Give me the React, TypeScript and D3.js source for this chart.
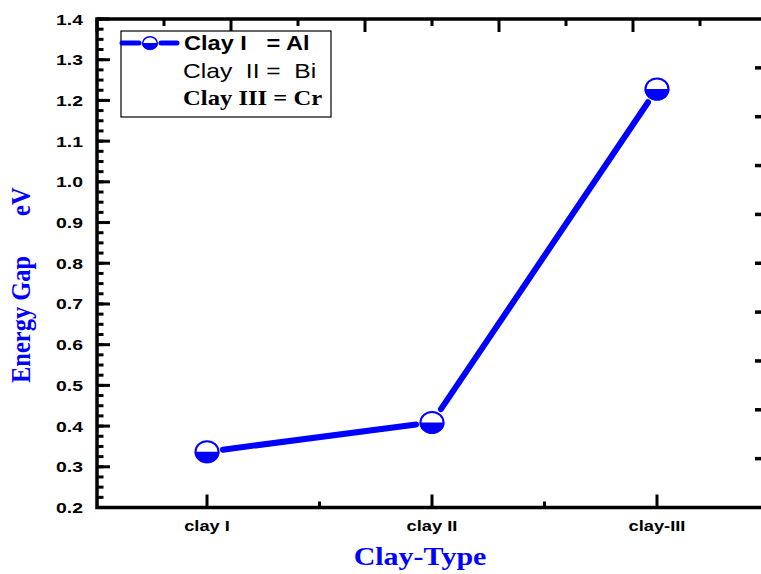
import React from "react";
import * as d3 from "d3";

const categories = ["clay I", "clay II", "clay-III"];
const energyGap = [0.337, 0.409, 1.228];
const yTicks = [0.2, 0.3, 0.4, 0.5, 0.6, 0.7, 0.8, 0.9, 1.0, 1.1, 1.2, 1.3, 1.4];
const legendLines = ["Clay I   = Al", "Clay  II =  Bi", "Clay III = Cr"];

const BLUE = "#0000FF";
const SANS = "Liberation Sans, Arial, sans-serif";
const SERIF = "Liberation Serif, Times New Roman, serif";

export default function App() {
  const W = 761, H = 574;
  const left = 97, right = 767, top = 19, bottom = 507.5;
  const x = d3.scaleLinear().domain([0.511, 3.489]).range([left, right]);
  const y = d3.scaleLinear().domain([0.2, 1.4]).range([bottom, top]);
  const topScale = d3.scaleLinear().domain([0, 5]).range([left, right]);
  const rightScale = d3.scaleLinear().domain([0, 10]).range([bottom, top]);

  const pts = energyGap.map((v, i) => [x(i + 1), y(v)] as [number, number]);
  const gap = 16;
  const segs = pts.slice(1).map((p, i) => {
    const a = pts[i];
    const dx = p[0] - a[0], dy = p[1] - a[1];
    const len = Math.hypot(dx, dy);
    const ux = dx / len, uy = dy / len;
    return [a[0] + ux * gap, a[1] + uy * gap, p[0] - ux * gap, p[1] - uy * gap];
  });

  const minorY = d3.range(0.2, 1.4001, 0.025);
  const rx = 12.5, ry = 11.5;
  const marker = (cx: number, cy: number, key: string, a = rx, b = ry, sw = 2) => (
    <g key={key}>
      <ellipse cx={cx} cy={cy} rx={a} ry={b} fill="#fff" />
      <path d={`M${cx - a},${cy} A${a},${b} 0 0 0 ${cx + a},${cy} Z`} fill={BLUE} />
      <ellipse cx={cx} cy={cy} rx={a - sw / 2} ry={b - sw / 2} fill="none" stroke={BLUE} strokeWidth={sw} />
    </g>
  );

  return (
    <svg width={W} height={H} style={{ position: "absolute", left: 0, top: 0 }}>
      <rect width={W} height={H} fill="#fff" />
      {/* left axis minor ticks */}
      {minorY.map((v, i) => (
        <line key={"ym" + i} x1={left} x2={left + 6.5} y1={y(v)} y2={y(v)} stroke="#000" strokeWidth={3} />
      ))}
      {yTicks.map((v) => (
        <g key={"y" + v}>
          <line x1={left} x2={left + 13} y1={y(v)} y2={y(v)} stroke="#000" strokeWidth={3} />
          <text transform={`translate(83,${y(v) + 5.5}) scale(1.26,1)`} textAnchor="end" fontFamily={SANS} fontWeight="bold" fontSize={15.4}>
            {v.toFixed(1)}
          </text>
        </g>
      ))}
      {/* bottom axis ticks */}
      {d3.range(1, 3.01, 0.5).map((v) => {
        const major = Number.isInteger(v);
        return (
          <line key={"xb" + v} x1={x(v)} x2={x(v)} y1={bottom} y2={bottom - (major ? 13 : 6)} stroke="#000" strokeWidth={3} />
        );
      })}
      {categories.map((c, i) => (
        <text key={c} transform={`translate(${x(i + 1)},531) scale(1.18,1)`} textAnchor="middle" fontFamily={SANS} fontWeight="bold" fontSize={15.5}>
          {c}
        </text>
      ))}
      {/* top axis ticks */}
      {d3.range(0, 5.01, 0.5).map((v) => {
        const major = Number.isInteger(v);
        return (
          <line key={"xt" + v} x1={topScale(v)} x2={topScale(v)} y1={top} y2={top + (major ? 13 : 7)} stroke="#000" strokeWidth={3} />
        );
      })}
      {/* right axis ticks */}
      {d3.range(1, 10).map((v) => (
        <line key={"yr" + v} x1={right} x2={right - 12} y1={rightScale(v)} y2={rightScale(v)} stroke="#000" strokeWidth={3.5} />
      ))}
      {/* frame */}
      <rect x={left} y={top} width={right - left} height={bottom - top} fill="none" stroke="#000" strokeWidth={3.5} />

      {/* series */}
      {segs.map((s, i) => (
        <line key={"s" + i} x1={s[0]} y1={s[1]} x2={s[2]} y2={s[3]} stroke={BLUE} strokeWidth={6} strokeLinecap="round" />
      ))}
      {pts.map((p, i) => marker(p[0], p[1], "m" + i))}

      {/* legend */}
      <rect x={121} y={31} width={210} height={86} fill="#fff" stroke="#000" strokeWidth={1.2} />
      <line x1={122} x2={139} y1={43} y2={43} stroke={BLUE} strokeWidth={5} strokeLinecap="round" />
      <line x1={161} x2={177} y1={43} y2={43} stroke={BLUE} strokeWidth={5} strokeLinecap="round" />
      {marker(150, 43, "lm", 8, 7, 1.5)}
      <text transform="translate(184,50) scale(1.15,1)" fontFamily={SANS} fontWeight="bold" fontSize={20.5} style={{ whiteSpace: "pre" }}>
        {legendLines[0]}
      </text>
      <text transform="translate(183,78) scale(1.2,1)" fontFamily={SANS} fontSize={20.5} style={{ whiteSpace: "pre" }}>
        {legendLines[1]}
      </text>
      <text transform="translate(183,105) scale(1.12,1)" fontFamily={SERIF} fontWeight="bold" fontSize={22} style={{ whiteSpace: "pre" }}>
        {legendLines[2]}
      </text>

      {/* axis titles */}
      <text transform="translate(420,565) scale(1.2,1)" textAnchor="middle" fill={BLUE} fontFamily={SERIF} fontWeight="bold" fontSize={25}>
        Clay-Type
      </text>
      <g transform="translate(30,0) rotate(-90)">
        <text x={-383} y={0} fill={BLUE} fontFamily={SERIF} fontWeight="bold" fontSize={24.5} transform="scale(1,1.12)">
          Energy Gap
        </text>
        <text x={-216} y={0} fill={BLUE} fontFamily={SERIF} fontWeight="bold" fontSize={24.5} transform="scale(1,1.12)">
          eV
        </text>
      </g>
    </svg>
  );
}
